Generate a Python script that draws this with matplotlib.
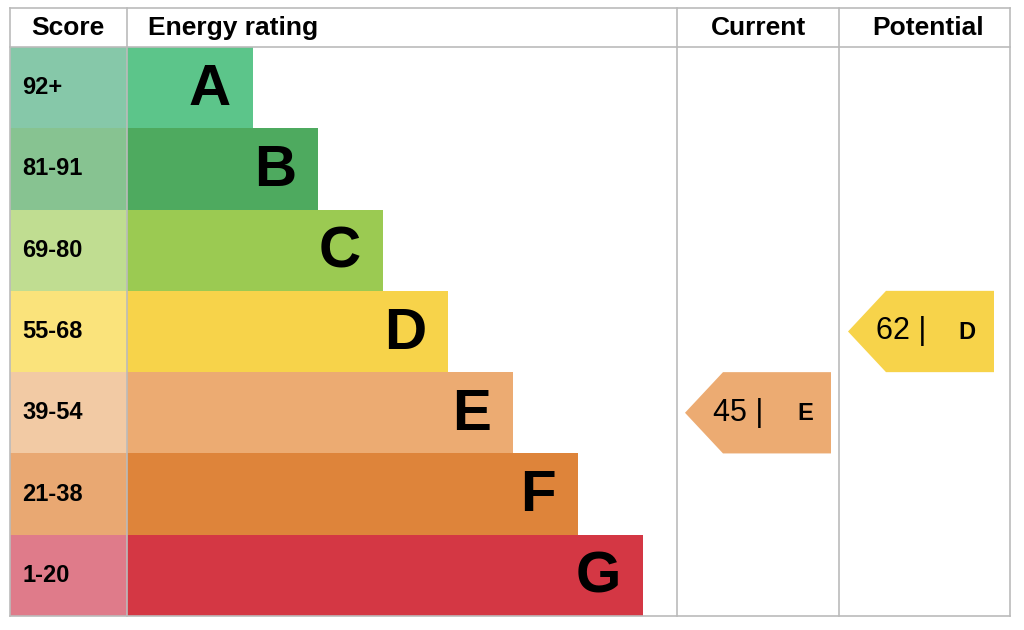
import matplotlib
matplotlib.use("Agg")
import matplotlib.pyplot as plt
from matplotlib.patches import Polygon, Rectangle

bands = ["A", "B", "C", "D", "E", "F", "G"]
ranges = ["92+", "81-91", "69-80", "55-68", "39-54", "21-38", "1-20"]
bar_colors = ["#5cc58a", "#4eaa5f", "#9bca52", "#f7d34a", "#ecab72", "#de843a", "#d43744"]
score_colors = ["#86c8a9", "#87c391", "#c0dd91", "#fae37b", "#f2caa4", "#e9a872", "#df7b8a"]
current_score, current_band = 45, "E"
potential_score, potential_band = 62, "D"

W, H = 1024, 630
fig = plt.figure(figsize=(W/100, H/100), dpi=100)
ax = fig.add_axes([0, 0, 1, 1])
ax.set_xlim(0, W); ax.set_ylim(H, 0); ax.axis("off")

top, head, bot = 8, 47, 616
left, c1, c2, c3, right = 10, 127, 677, 839, 1010
rh = (bot - head) / 7
lc = "#bbbbbb"

for i, b in enumerate(bands):
    y0 = head + i * rh
    ax.add_patch(Rectangle((left, y0), c1 - left, rh, color=score_colors[i], lw=0))
    x1 = 253 + 65 * i
    ax.add_patch(Rectangle((c1, y0), x1 - c1, rh, color=bar_colors[i], lw=0))
    ax.text(22, y0 + rh/2, ranges[i], fontsize=17, fontweight="bold", va="center", ha="left", family="Liberation Sans")
    ax.text(x1 - 22, y0 + rh/2 + 2, b, fontsize=42, fontweight="bold", va="center", ha="right", family="Liberation Sans")

def arrow(xl, xr, band, score):
    i = bands.index(band)
    y0 = head + i * rh; y1 = y0 + rh; ym = (y0 + y1) / 2
    ax.add_patch(Polygon([(xl, ym), (xl + 38, y0), (xr, y0), (xr, y1), (xl + 38, y1)], color=bar_colors[i], lw=0))
    ax.text(xl + 28, ym, f"{score} |", fontsize=22, va="center", ha="left", family="Liberation Sans")
    ax.text(xr - 18, ym + 1, band, fontsize=17, fontweight="bold", va="center", ha="right", family="Liberation Sans")

arrow(685, 831, current_band, current_score)
arrow(848, 994, potential_band, potential_score)

for x in [left, c1, c2, c3, right]:
    ax.plot([x, x], [top, bot], color=lc, lw=1.2)
for y in [top, head, bot]:
    ax.plot([left, right], [y, y], color=lc, lw=1.2)

hs = dict(fontsize=19, fontweight="bold", va="center", family="Liberation Sans")
ax.text(68, 28, "Score", ha="center", **hs)
ax.text(148, 28, "Energy rating", ha="left", **hs)
ax.text(758, 28, "Current", ha="center", **hs)
ax.text(928, 28, "Potential", ha="center", **hs)

fig.savefig("out.png", dpi=100)
